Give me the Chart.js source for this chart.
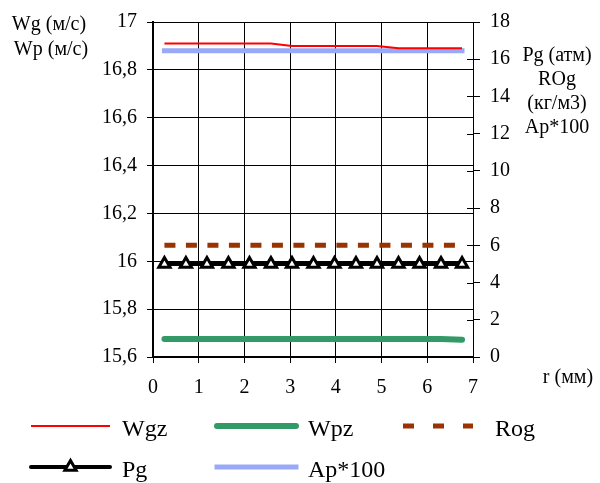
<!DOCTYPE html>
<html>
<head>
<meta charset="utf-8">
<script src="https://cdn.jsdelivr.net/npm/chart.js@4/dist/chart.umd.min.js"></script>
<style>
  html, body { margin: 0; padding: 0; background: #fff; }
  #chart { display: block; }
</style>
</head>
<body>
<canvas id="chart" width="600" height="483"></canvas>
<script>
// r (мм) - points along the radius
const r = [0.25, 0.72, 1.18, 1.65, 2.11, 2.58, 3.04, 3.51, 3.97, 4.44, 4.90, 5.37, 5.83, 6.30, 6.76];

// left axis series (м/с)
const wgz = [16.91, 16.91, 16.91, 16.91, 16.91, 16.91, 16.90, 16.90, 16.90, 16.90, 16.90, 16.89, 16.89, 16.89, 16.89];
const wpz = [15.675, 15.675, 15.675, 15.675, 15.675, 15.675, 15.675, 15.675, 15.675, 15.675, 15.675, 15.675, 15.675, 15.675, 15.672];

// right axis series
const rog = [6, 6, 6, 6, 6, 6, 6, 6, 6, 6, 6, 6, 6, 6, 6];
const pg = [5, 5, 5, 5, 5, 5, 5, 5, 5, 5, 5, 5, 5, 5, 5];
const ap100 = [16.45, 16.45, 16.45, 16.45, 16.45, 16.45, 16.45, 16.45, 16.45, 16.45, 16.45, 16.45, 16.45, 16.45, 16.45];

const seriesNames = ['Wgz', 'Wpz', 'Rog', 'Pg', 'Ap*100'];

// tick labels
const leftTicks = ['15,6', '15,8', '16', '16,2', '16,4', '16,6', '16,8', '17'];
const rightTicks = ['0', '2', '4', '6', '8', '10', '12', '14', '16', '18'];
const xTicks = ['0', '1', '2', '3', '4', '5', '6', '7'];

const FONT = 'Liberation Serif, Times New Roman, serif';

function pts(ys) {
  return r.map((x, i) => ({ x: x, y: ys[i] }));
}

// axis titles + custom legend
const extras = {
  id: 'extras',
  afterDraw(chart) {
    const c = chart.ctx;
    const y1 = chart.scales.y1;
    c.save();
    // short inner ticks on right axis
    c.strokeStyle = '#000';
    c.lineWidth = 1;
    y1.ticks.forEach(t => {
      const py = Math.round(y1.getPixelForValue(t.value)) + 0.5;
      c.beginPath();
      c.moveTo(y1.left - 6, py);
      c.lineTo(y1.left, py);
      c.stroke();
    });

    c.fillStyle = '#000';
    c.font = '20px ' + FONT;
    c.textAlign = 'center';
    c.textBaseline = 'alphabetic';
    c.fillText('Wg (м/с)', 49, 30);
    c.fillText('Wp (м/с)', 51, 55);
    c.fillText('Pg (атм)', 557, 61);
    c.fillText('ROg', 557, 85);
    c.fillText('(кг/м3)', 557, 109);
    c.fillText('Ap*100', 557, 133);
    c.fillText('r (мм)', 568, 383);

    // legend
    const slots = [[31, 426], [217, 426], [403, 426], [31, 467], [217, 467]];
    c.font = '24px ' + FONT;
    c.textAlign = 'left';
    chart.data.datasets.forEach((ds, i) => {
      const [x, y] = slots[i];
      const len = i === 2 ? 70 : 79;
      c.save();
      c.strokeStyle = ds.borderColor;
      c.lineWidth = ds.borderWidth;
      c.lineCap = ds.borderCapStyle || 'butt';
      if (i === 2) c.setLineDash([11, 19]);
      c.beginPath();
      c.moveTo(x, y);
      c.lineTo(x + len, y);
      c.stroke();
      c.restore();
      if (ds.pointRadius > 0) {
        const cx = x + len / 2;
        const rad = ds.pointRadius;
        c.save();
        c.beginPath();
        c.moveTo(cx, y - rad);
        c.lineTo(cx + rad * 0.866, y + rad / 2);
        c.lineTo(cx - rad * 0.866, y + rad / 2);
        c.closePath();
        c.fillStyle = ds.pointBackgroundColor;
        c.fill();
        c.strokeStyle = ds.pointBorderColor;
        c.lineWidth = ds.pointBorderWidth;
        c.stroke();
        c.restore();
      }
      c.fillStyle = '#000';
      c.fillText(seriesNames[i], i === 2 ? 495 : x + 91, y + 10);
    });
    c.restore();
  }
};

new Chart(document.getElementById('chart'), {
  type: 'line',
  data: {
    datasets: [
      { label: seriesNames[0], data: pts(wgz), yAxisID: 'y', borderColor: '#ff0000', borderWidth: 2, pointRadius: 0, borderCapStyle: 'butt' },
      { label: seriesNames[1], data: pts(wpz), yAxisID: 'y', borderColor: '#339966', borderWidth: 6, pointRadius: 0, borderCapStyle: 'round' },
      { label: seriesNames[2], data: pts(rog), yAxisID: 'y1', borderColor: '#993300', borderWidth: 5, pointRadius: 0, borderDash: [11, 10.5], borderCapStyle: 'butt' },
      { label: seriesNames[3], data: pts(pg), yAxisID: 'y1', borderColor: '#000000', borderWidth: 4, pointRadius: 6.5,
        pointStyle: 'triangle', pointBackgroundColor: '#ffffff', pointBorderColor: '#000000', pointBorderWidth: 3, borderCapStyle: 'round' },
      { label: seriesNames[4], data: pts(ap100), yAxisID: 'y1', borderColor: '#99a9f7', borderWidth: 5, pointRadius: 0, borderCapStyle: 'square' }
    ]
  },
  options: {
    responsive: false,
    animation: false,
    devicePixelRatio: 1,
    layout: { padding: { top: 20, left: 0, right: 0, bottom: 0 } },
    plugins: { legend: { display: false }, tooltip: { enabled: false } },
    scales: {
      x: {
        type: 'linear', position: 'bottom', min: 0, max: 7,
        afterFit(s) { s.height = 126; },
        ticks: { stepSize: 1, color: '#000', font: { family: FONT, size: 20 }, padding: 13,
          callback: (v) => xTicks[Math.round(v)] },
        grid: { color: '#000', lineWidth: 1, tickLength: 6 },
        border: { color: '#000', width: 2 }
      },
      y: {
        position: 'left', min: 15.6, max: 17,
        afterFit(s) { s.width = 153; },
        ticks: { stepSize: 0.2, color: '#000', font: { family: FONT, size: 20 }, padding: 10,
          callback: (v) => leftTicks[Math.round((v - 15.6) / 0.2)] },
        grid: { color: '#000', lineWidth: 1, tickLength: 6 },
        border: { color: '#000', width: 2 }
      },
      y1: {
        position: 'right', min: 0, max: 18,
        afterFit(s) { s.width = 127; },
        ticks: { stepSize: 2, color: '#000', font: { family: FONT, size: 20 }, padding: 10,
          callback: (v) => rightTicks[Math.round(v / 2)] },
        grid: { drawOnChartArea: false, color: '#000', lineWidth: 1, tickLength: 7 },
        border: { color: '#000', width: 1 }
      }
    }
  },
  plugins: [extras]
});
</script>
</body>
</html>
